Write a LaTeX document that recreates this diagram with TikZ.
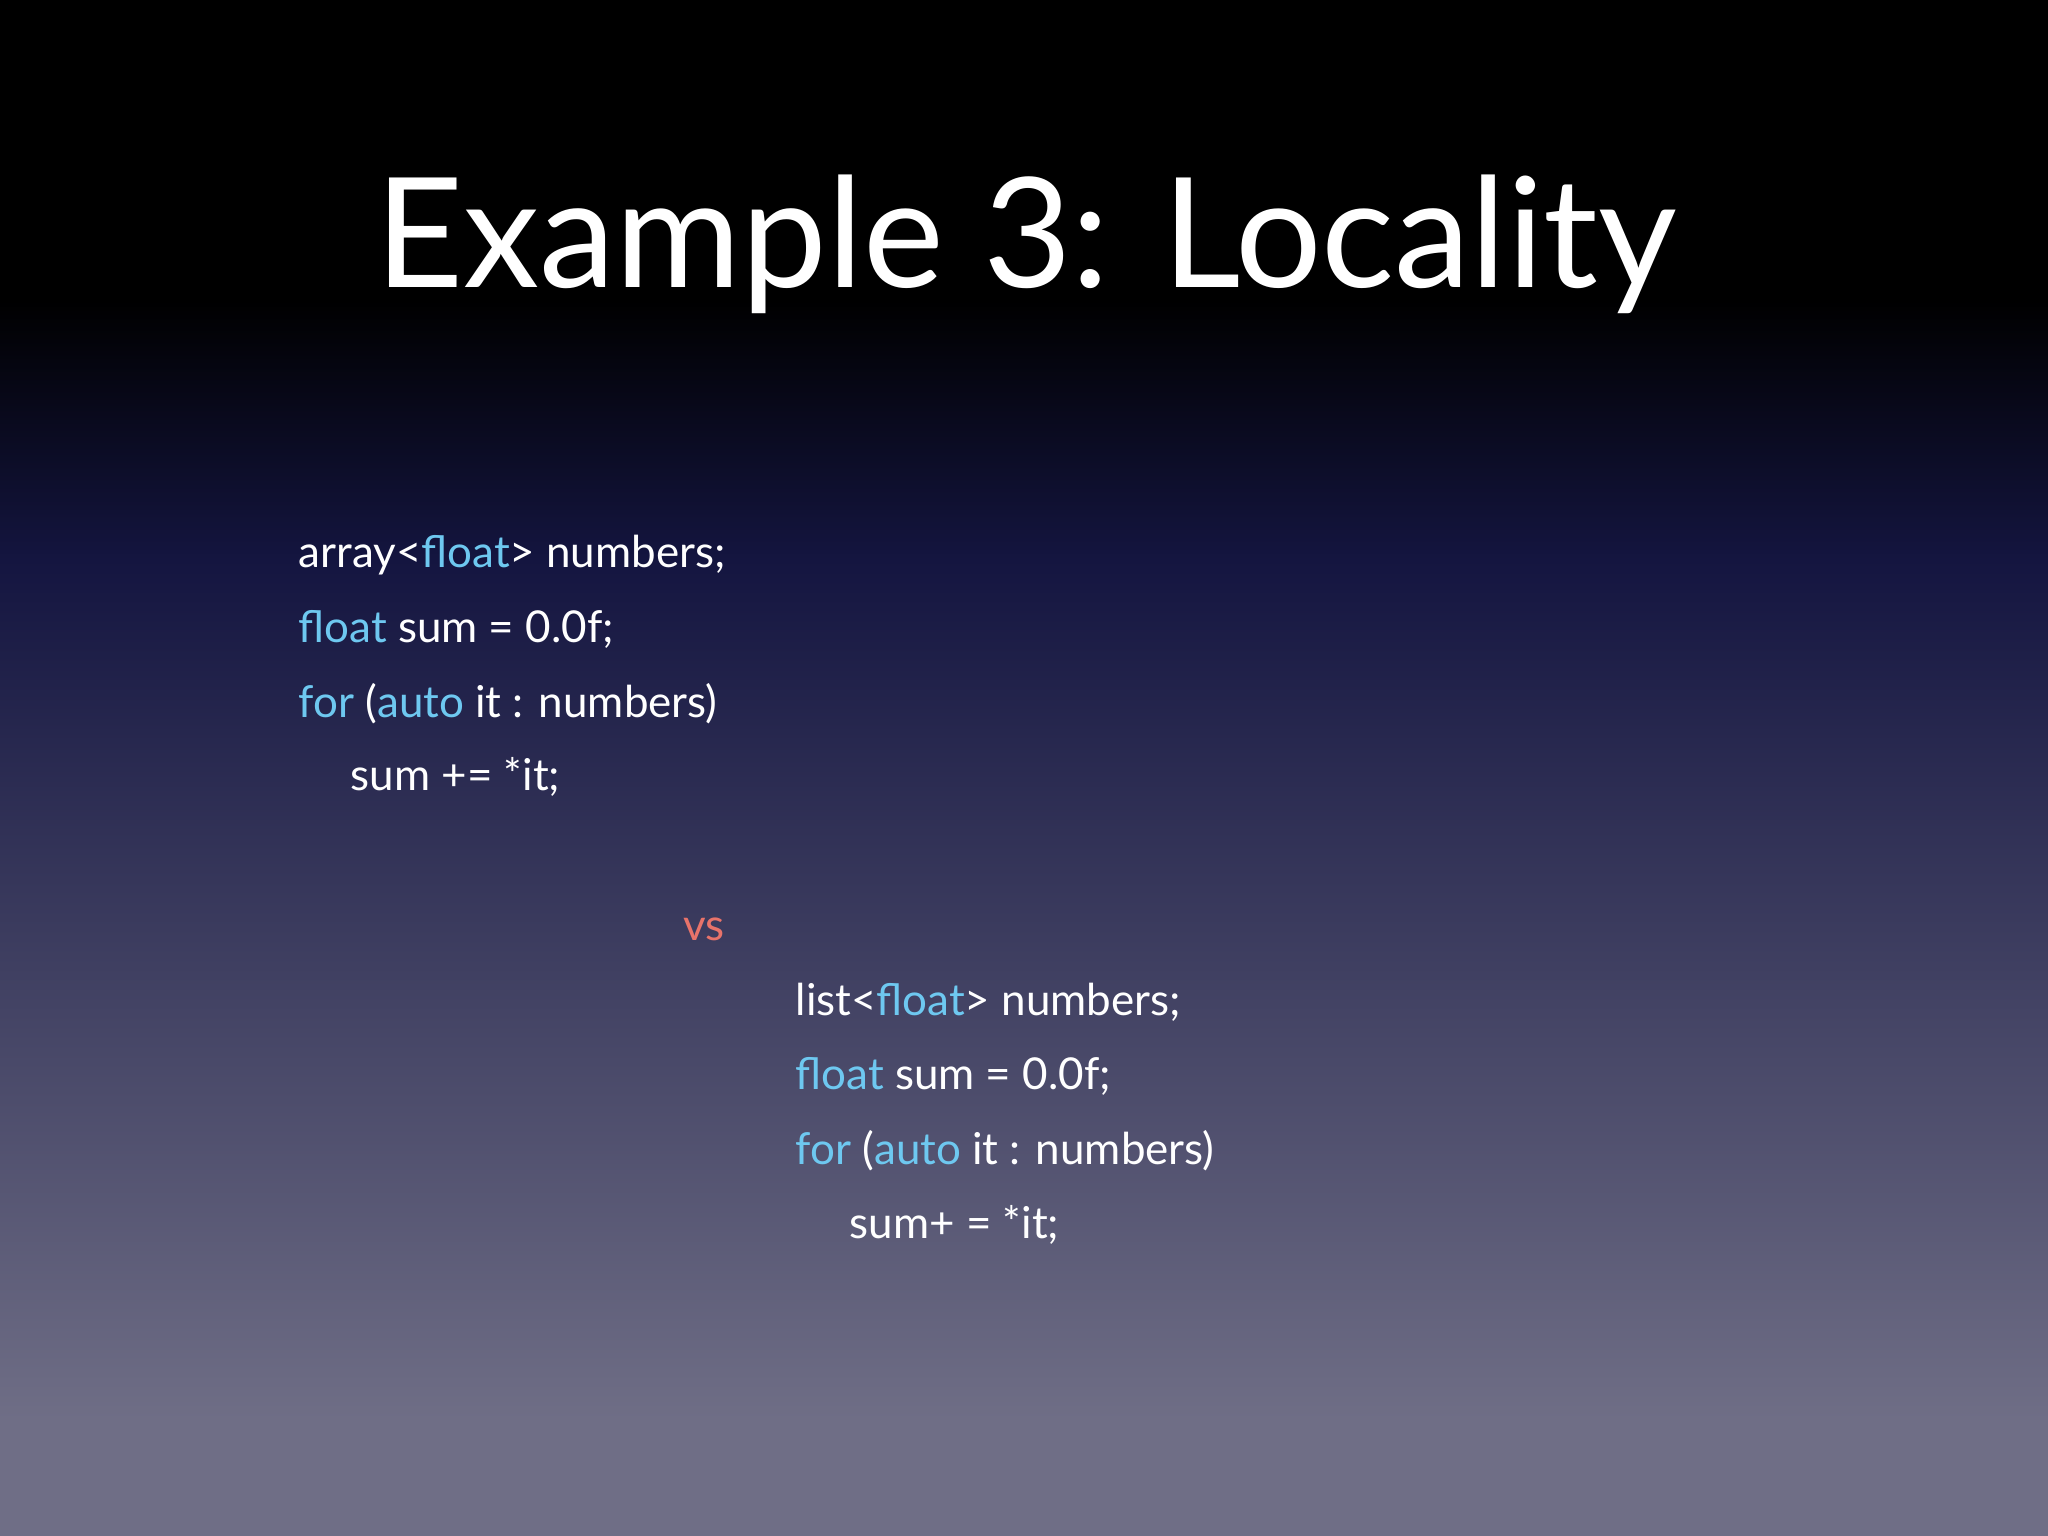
\documentclass[tikz,border=0pt]{standalone}
\usepackage{fontspec}
\setmainfont{Lato}
\definecolor{kw}{HTML}{6EC8F0}
\definecolor{vsc}{HTML}{E8736A}
\definecolor{bgtop}{HTML}{000000}
\definecolor{bgmid}{HTML}{141540}
\definecolor{bgbot}{HTML}{6F6E86}
\begin{document}
\begin{tikzpicture}[
  code/.style={anchor=base west,inner sep=0pt,text=white,font=\fontsize{12.5}{15}\selectfont},
  title/.style={anchor=base,inner sep=0pt,text=white,font=\fontsize{43.5}{48}\selectfont}]
\useasboundingbox (0,0) rectangle (20.48,-15.36);
\fill[bgtop] (0,0) rectangle (20.48,-3.0);
\shade[top color=bgtop,bottom color=bgmid] (0,-3.0) rectangle (20.48,-5.6);
\shade[top color=bgmid,bottom color=bgbot] (0,-5.59) rectangle (20.48,-14.2);
\fill[bgbot] (0,-14.19) rectangle (20.48,-15.36);
\node[title] (t) at (10.26,-2.88) {Example 3: Locality};
\node[code] (a1) at (2.98,-5.68) {array<\textcolor{kw}{float}> numbers;};
\node[code] (a2) at (2.98,-6.43) {\textcolor{kw}{float} sum = 0.0f;};
\node[code] (a3) at (2.98,-7.17) {\textcolor{kw}{for} (\textcolor{kw}{auto} it : numbers)};
\node[code] (a4) at (3.50,-7.91) {sum += *it;};
\node[code,text=vsc] (vs) at (6.83,-9.40) {vs};
\node[code] (b1) at (7.95,-10.15) {list<\textcolor{kw}{float}> numbers;};
\node[code] (b2) at (7.95,-10.89) {\textcolor{kw}{float} sum = 0.0f;};
\node[code] (b3) at (7.95,-11.64) {\textcolor{kw}{for} (\textcolor{kw}{auto} it : numbers)};
\node[code] (b4) at (8.49,-12.38) {sum+ = *it;};
\end{tikzpicture}
\end{document}
